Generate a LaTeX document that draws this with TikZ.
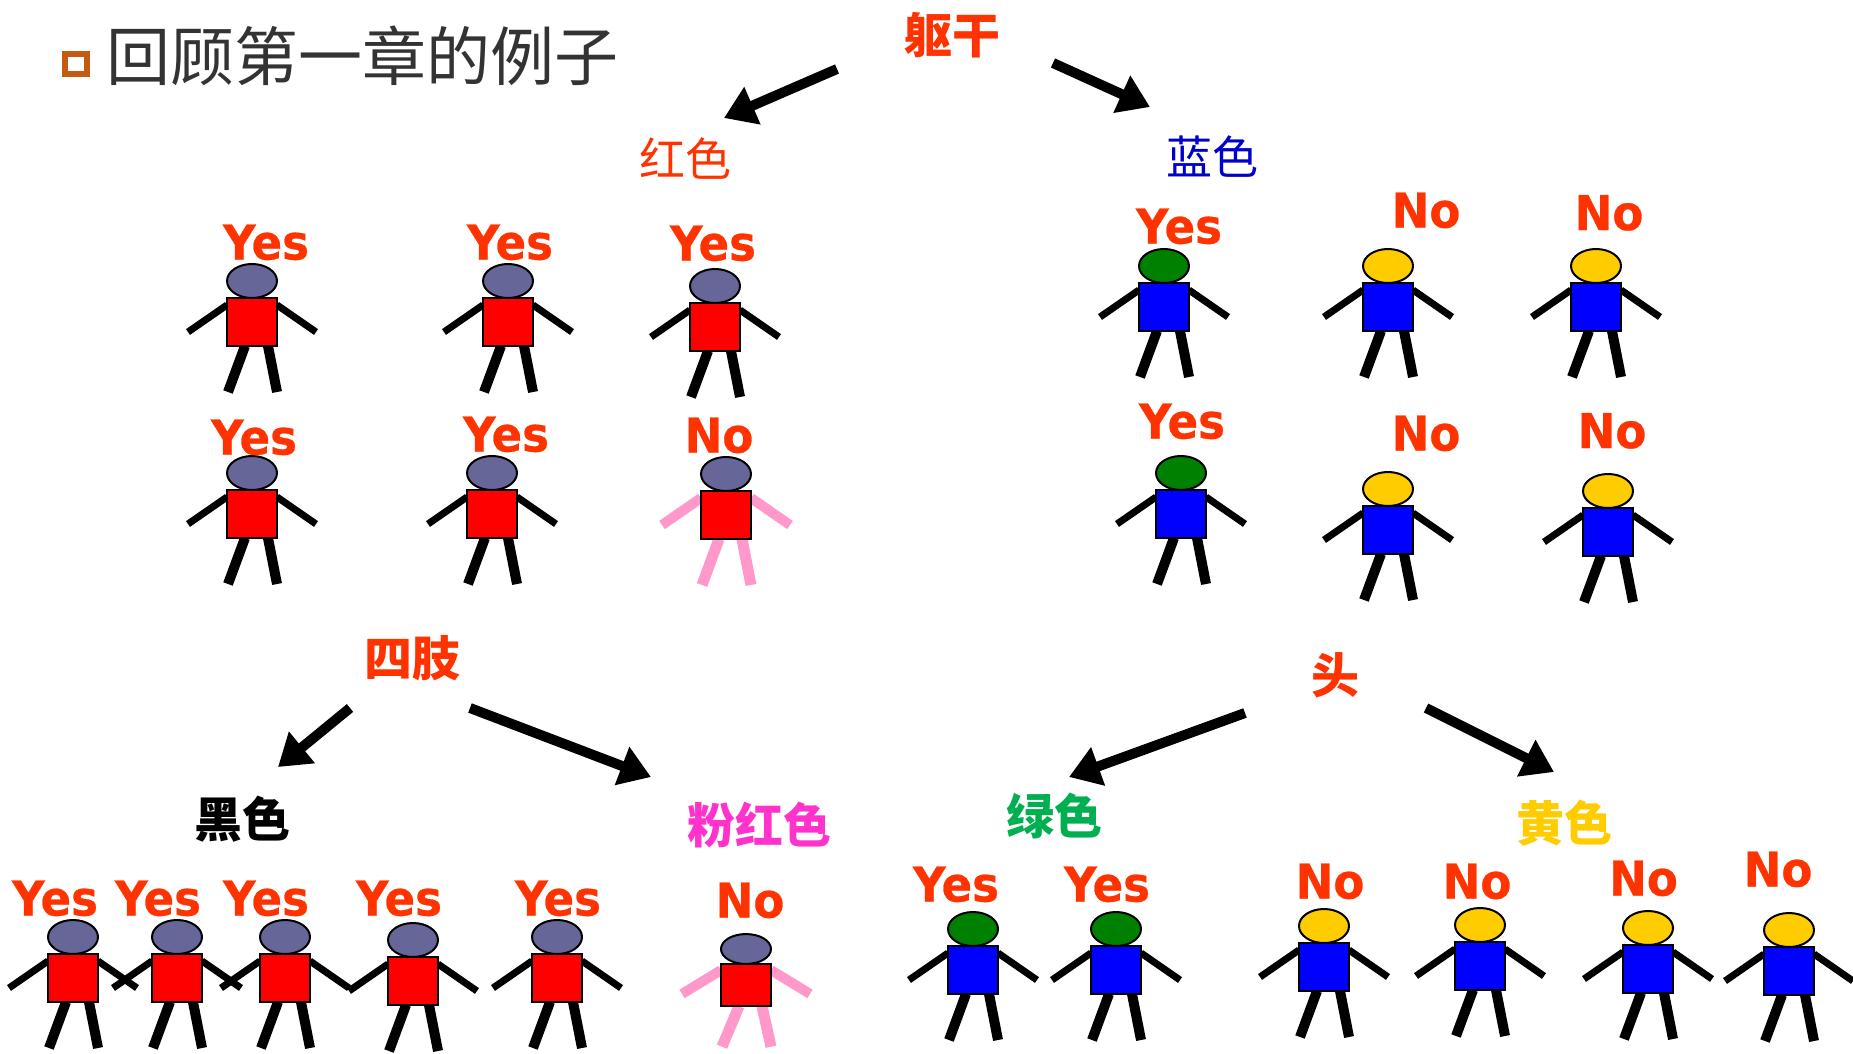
\documentclass[tikz,border=0pt]{standalone}
\usepackage{fontspec}
\usetikzlibrary{arrows.meta}
\newfontfamily\cjk{Noto Sans CJK SC}
\newfontfamily\latinlab{DejaVu Sans}[FakeStretch=0.94, BoldFeatures={FakeBold=0.6}]

\definecolor{labred}{RGB}{255,51,0}
\definecolor{headpurple}{RGB}{102,102,153}
\definecolor{headgreen}{RGB}{0,128,0}
\definecolor{headyellow}{RGB}{255,204,0}
\definecolor{bodyred}{RGB}{255,0,0}
\definecolor{bodyblue}{RGB}{0,0,255}
\definecolor{limbpink}{RGB}{255,153,204}
\definecolor{catblue}{RGB}{0,0,204}
\definecolor{catpink}{RGB}{255,51,204}
\definecolor{catgreen}{RGB}{0,176,80}
\definecolor{catyellow}{RGB}{255,204,0}
\definecolor{bulletorange}{RGB}{197,90,17}
\definecolor{titlegray}{RGB}{51,51,51}

% one stick figure: #1 position of the head centre, #2 head, #3 body, #4 limbs, #5 extra options
\newcommand\stickman[5]{%
  \begin{scope}[shift={#1},#5]
    \draw[arm,draw=#4] (-25,24) -- (-64,51);
    \draw[arm,draw=#4] (25,24) -- (64,51);
    \draw[leg,draw=#4] (-7,65) -- (-24,111);
    \draw[leg,draw=#4] (16,65) -- (25,111);
    \draw[outl,fill=#3] (-25,17) rectangle (25,65);
    \draw[outl,fill=#2] (0,0) ellipse [x radius=25, y radius=17];
  \end{scope}}

\tikzset{
  arm/.style={line width=7pt},
  leg/.style={line width=10pt},
  outl/.style={draw=black, line width=2pt},
  pinklimbs/.style={arm/.style={line width=10pt}, leg/.style={line width=11pt}},
  yn/.style={anchor=base, inner sep=0pt, text=labred,
    font=\latinlab\bfseries\fontsize{48}{48}\selectfont},
  cat/.style={inner sep=0pt, font=\cjk\bfseries\fontsize{48}{48}\selectfont},
  catlight/.style={inner sep=0pt, font=\cjk\fontsize{46}{46}\selectfont},
  bigarrow/.style={line width=10pt, -{Triangle[length=31pt,width=39pt]}},
}

\begin{document}
\begin{tikzpicture}[x=1pt,y=-1pt]
  \useasboundingbox (0,0) rectangle (1853,1053);
  \fill[white] (0,0) rectangle (1853,1053);

  % heading
  \draw[bulletorange, line width=6pt] (65,54) rectangle (87,74);
  \node[anchor=west, inner sep=0pt, text=titlegray,
        font=\cjk\fontsize{64}{64}\selectfont] (title) at (106,56) {回顾第一章的例子};

  % category labels
  \node[cat, text=labred] (torso) at (952,35) {躯干};
  \node[catlight, text=labred] (red) at (685,159) {红色};
  \node[catlight, text=catblue] (blue) at (1212,157) {蓝色};
  \node[cat, text=labred] (limbs) at (412,658) {四肢};
  \node[cat, text=labred] (head) at (1335,675) {头};
  \node[cat, text=black] (black) at (242,819) {黑色};
  \node[cat, text=catpink] (pink) at (759,825) {粉红色};
  \node[cat, text=catgreen] (green) at (1054,816) {绿色};
  \node[cat, text=catyellow] (yellow) at (1564,823) {黄色};

  % branch arrows
  \coordinate (a1s) at (837,69);   \coordinate (a1e) at (724,118);
  \coordinate (a2s) at (1053,63);  \coordinate (a2e) at (1150,107);
  \coordinate (a3s) at (350,708);  \coordinate (a3e) at (278,767);
  \coordinate (a4s) at (470,708);  \coordinate (a4e) at (651,777);
  \coordinate (a5s) at (1245,713); \coordinate (a5e) at (1069,777);
  \coordinate (a6s) at (1426,708); \coordinate (a6e) at (1554,772);
  \foreach \i in {1,...,6} \draw[bigarrow] (a\i s) -- (a\i e);

  % red-body group
  \stickman{(252,281)}{headpurple}{bodyred}{black}{}
  \stickman{(508,281)}{headpurple}{bodyred}{black}{}
  \stickman{(715,286)}{headpurple}{bodyred}{black}{}
  \stickman{(252,473)}{headpurple}{bodyred}{black}{}
  \stickman{(492,473)}{headpurple}{bodyred}{black}{}
  \stickman{(726,474)}{headpurple}{bodyred}{limbpink}{pinklimbs}
  \node[yn] (y1) at (266,259.5) {Yes};
  \node[yn] (y2) at (510,259.5) {Yes};
  \node[yn] (y3) at (713,260.5) {Yes};
  \node[yn] (y4) at (254,454.5) {Yes};
  \node[yn] (y5) at (506,451.5) {Yes};
  \node[yn] (n1) at (719,452.5) {No};

  % blue-body group
  \stickman{(1164,266)}{headgreen}{bodyblue}{black}{}
  \stickman{(1388,266)}{headyellow}{bodyblue}{black}{}
  \stickman{(1596,266)}{headyellow}{bodyblue}{black}{}
  \stickman{(1181,473)}{headgreen}{bodyblue}{black}{}
  \stickman{(1388,489)}{headyellow}{bodyblue}{black}{}
  \stickman{(1608,491)}{headyellow}{bodyblue}{black}{}
  \node[yn] (y6) at (1179,243.5) {Yes};
  \node[yn] (n2) at (1426,227.5) {No};
  \node[yn] (n3) at (1609,230) {No};
  \node[yn] (y7) at (1182,438.5) {Yes};
  \node[yn] (n4) at (1426,450.5) {No};
  \node[yn] (n5) at (1612,448) {No};

  % limbs group
  \stickman{(73,937)}{headpurple}{bodyred}{black}{}
  \stickman{(177,937)}{headpurple}{bodyred}{black}{}
  \stickman{(285,937)}{headpurple}{bodyred}{black}{}
  \stickman{(413,940)}{headpurple}{bodyred}{black}{}
  \stickman{(557,937)}{headpurple}{bodyred}{black}{}
  \stickman{(746,949)}{headpurple}{bodyred}{limbpink}{pinklimbs,yscale=0.88}
  \node[yn] (y8) at (55,915.5) {Yes};
  \node[yn] (y9) at (158,915.5) {Yes};
  \node[yn] (y10) at (266,915.5) {Yes};
  \node[yn] (y11) at (399,915.5) {Yes};
  \node[yn] (y12) at (558,915.5) {Yes};
  \node[yn] (n6) at (750,917.5) {No};

  % head-colour group
  \stickman{(973,929)}{headgreen}{bodyblue}{black}{}
  \stickman{(1116,929)}{headgreen}{bodyblue}{black}{}
  \stickman{(1324,926)}{headyellow}{bodyblue}{black}{}
  \stickman{(1480,925)}{headyellow}{bodyblue}{black}{}
  \stickman{(1648,928)}{headyellow}{bodyblue}{black}{}
  \stickman{(1789,930)}{headyellow}{bodyblue}{black}{}
  \node[yn] (y13) at (956,901.5) {Yes};
  \node[yn] (y14) at (1107,901.5) {Yes};
  \node[yn] (n7) at (1330,898.5) {No};
  \node[yn] (n8) at (1477,898.5) {No};
  \node[yn] (n9) at (1643.5,895.5) {No};
  \node[yn] (n10) at (1778,886.5) {No};
\end{tikzpicture}
\end{document}
